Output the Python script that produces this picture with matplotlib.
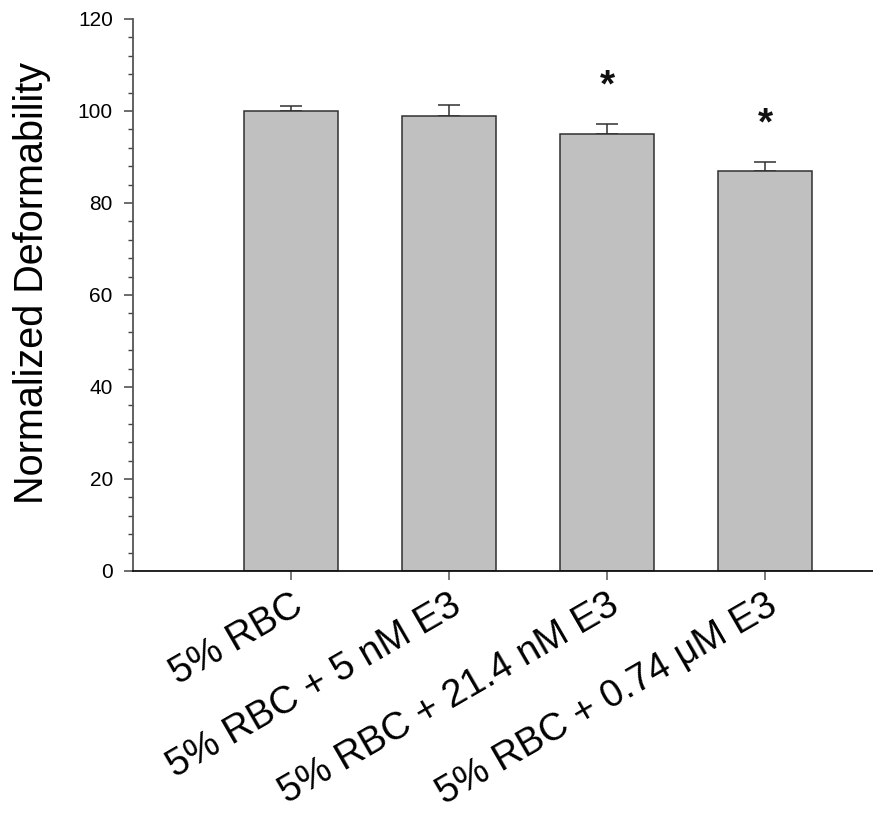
import matplotlib
matplotlib.use('Agg')
import matplotlib.pyplot as plt
from matplotlib.ticker import MultipleLocator

plt.rcParams['font.family'] = ['Liberation Sans', 'DejaVu Sans']

groups = ['5% RBC', '5% RBC + 5 nM E3', '5% RBC + 21.4 nM E3', '5% RBC + 0.74 \u03bcM E3']
deformability = [100.0, 98.9, 94.9, 87.0]
sem = [1.0, 2.4, 2.2, 1.9]
significant = [False, False, True, True]

fig = plt.figure(figsize=(8.73, 8.16), dpi=100)
ax = fig.add_axes([133 / 873, 245 / 816, 740 / 873, 552 / 816])

x = list(range(1, len(groups) + 1))
ax.bar(x, deformability, width=0.6, color='#c0c0c0', edgecolor='#303030',
       linewidth=1.1, zorder=2)
ax.errorbar(x, deformability, yerr=[[0] * len(sem), sem], fmt='none',
            ecolor='#303030', elinewidth=1.1, capsize=8, capthick=1.1, zorder=1)

# asterisks over the groups that differ from control
for xi, val, err, sig in zip(x, deformability, sem, significant):
    if sig:
        ax.text(xi, val + err + 8.2, '*', ha='center', va='center',
                fontsize=28, fontweight='bold', color='#111111')

ax.set_xlim(0, 740 / 158)
ax.set_ylim(0, 120)
ax.yaxis.set_major_locator(MultipleLocator(20))
ax.yaxis.set_minor_locator(MultipleLocator(4))
ax.set_xticks(x)
ax.set_xticklabels(groups, rotation=30, ha='right', va='top',
                   rotation_mode='anchor', fontsize=27.5)
ax.tick_params(axis='y', labelsize=15, direction='out', length=6.5,
               width=1.1, color='#444444', pad=8)
ax.tick_params(axis='y', which='minor', direction='out', length=3.6,
               width=1.0, color='#444444')
ax.tick_params(axis='x', direction='out', length=6.5, width=1.1,
               color='#555555', pad=5)
ax.set_ylabel('Normalized Deformability', fontsize=28.5)
ax.yaxis.set_label_coords(-82 / 740, 0.522)

ax.spines['top'].set_visible(False)
ax.spines['right'].set_visible(False)
ax.spines['left'].set_color('#555555')
ax.spines['left'].set_linewidth(1.3)
ax.spines['bottom'].set_color('#111111')
ax.spines['bottom'].set_linewidth(1.3)

fig.savefig('out.png', dpi=100)
